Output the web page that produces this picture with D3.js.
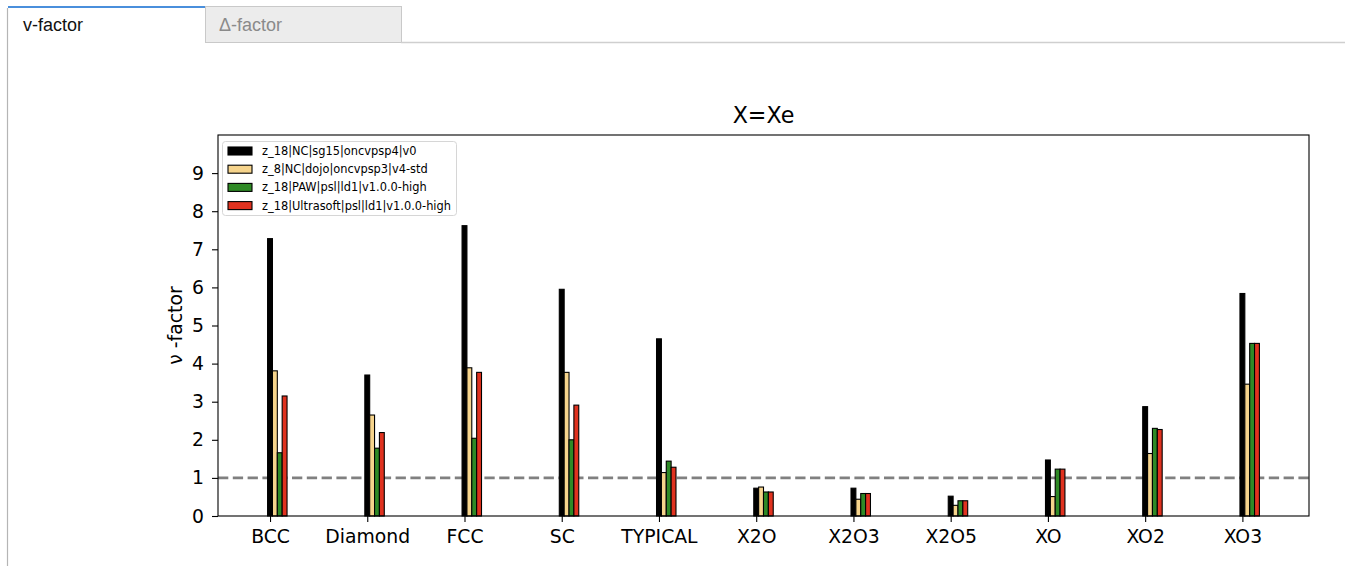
<!DOCTYPE html>
<html><head><meta charset="utf-8">
<script src="https://cdn.jsdelivr.net/npm/d3@7"></script>
<style>
html,body{margin:0;padding:0;background:#fff;overflow:hidden;}
svg{display:block;}
</style></head>
<body>
<svg id="chart" width="1353" height="566"></svg>
<script>
const categories = ["BCC","Diamond","FCC","SC","TYPICAL","X2O","X2O3","X2O5","XO","XO2","XO3"];
const seriesNames = ["z_18|NC|sg15|oncvpsp4|v0","z_8|NC|dojo|oncvpsp3|v4-std","z_18|PAW|psl|ld1|v1.0.0-high","z_18|Ultrasoft|psl|ld1|v1.0.0-high"];
const seriesColors = ["#000000","#f6d48c","#2f8a26","#e0321f"];
const sg15 = [7.28,3.70,7.62,5.95,4.65,0.73,0.73,0.52,1.47,2.87,5.84];
const dojo = [3.81,2.65,3.89,3.77,1.14,0.76,0.44,0.28,0.51,1.64,3.46];
const paw  = [1.66,1.78,2.04,2.00,1.44,0.63,0.59,0.40,1.23,2.30,4.53];
const us   = [3.15,2.19,3.77,2.91,1.28,0.63,0.59,0.40,1.23,2.27,4.53];
const seriesValues = [sg15,dojo,paw,us];
const yTicks = [0,1,2,3,4,5,6,7,8,9];
const tabLabels = ["v-factor","Δ-factor"];
const title = "X=Xe";
const yLabel = "ν -factor";

const svg = d3.select("#chart");

// --- tabs ---
const tabs = svg.append("g");
tabs.append("rect").attr("x",205.5).attr("y",6.5).attr("width",196).attr("height",36)
  .attr("fill","#ececec").attr("stroke","#c9c9c9");
tabs.append("line").attr("x1",401).attr("x2",1345).attr("y1",42.5).attr("y2",42.5).attr("stroke","#cfcfcf").attr("stroke-width",1.5);
tabs.append("rect").attr("x",8).attr("y",6).attr("width",197).attr("height",37).attr("fill","#fff");
tabs.append("line").attr("x1",8).attr("x2",205).attr("y1",7).attr("y2",7).attr("stroke","#4a8fdc").attr("stroke-width",2);
tabs.append("line").attr("x1",7.5).attr("x2",7.5).attr("y1",8).attr("y2",566).attr("stroke","#b5b5b5").attr("stroke-width",1.2);
tabs.selectAll("text.tab").data(tabLabels).join("text").attr("class","tab")
  .attr("x",(d,i)=> i===0 ? 23 : 219).attr("y",31)
  .attr("font-family","Liberation Sans, Arial, sans-serif").attr("font-size",18)
  .attr("fill",(d,i)=> i===0 ? "#111" : "#8a8a8a").text(d=>d);

// --- chart ---
const L=218, R=1309, T=135, B=516;
const barW = 0.05;
const x = d3.scaleLinear().domain([-0.535,10.685]).range([L,R]);
const y = d3.scaleLinear().domain([0,10]).range([B,T]);
const font = "DejaVu Sans, sans-serif";
const fs = 18.8;

const g = svg.append("g");

// reference line y=1
g.append("line").attr("x1",L).attr("x2",R).attr("y1",y(1)).attr("y2",y(1))
  .attr("stroke","#808080").attr("stroke-width",2.7).attr("stroke-dasharray","10.3,4.5");

// bars
seriesValues.forEach((vals,k)=>{
  g.append("g").selectAll("rect").data(vals).join("rect")
    .attr("x",(d,i)=> x(i + k*barW - barW/2))
    .attr("width", x(barW)-x(0))
    .attr("y", d=> y(d))
    .attr("height", d=> y(0)-y(d))
    .attr("fill", seriesColors[k])
    .attr("stroke","#000").attr("stroke-width",1.1);
});

// frame
g.append("rect").attr("x",L).attr("y",T).attr("width",R-L).attr("height",B-T)
  .attr("fill","none").attr("stroke","#000").attr("stroke-width",1.1);

// x axis
const xAxis = d3.axisBottom(x).tickValues(d3.range(categories.length))
  .tickFormat(i=>categories[i]).tickSize(6).tickPadding(4);
const xa = g.append("g").attr("transform",`translate(0,${B})`).call(xAxis);
xa.select(".domain").remove();
xa.selectAll("line").attr("stroke","#000").attr("stroke-width",1.1);
xa.selectAll("text").attr("font-family",font).attr("font-size",fs).attr("fill","#000").attr("dy","0.88em");

// y axis
const yAxis = d3.axisLeft(y).tickValues(yTicks).tickFormat(d3.format("d")).tickSize(6).tickPadding(8);
const ya = g.append("g").attr("transform",`translate(${L},0)`).call(yAxis);
ya.select(".domain").remove();
ya.selectAll("line").attr("stroke","#000").attr("stroke-width",1.1);
ya.selectAll("text").attr("font-family",font).attr("font-size",fs).attr("fill","#000");

// title
g.append("text").attr("x",(L+R)/2).attr("y",123).attr("text-anchor","middle")
  .attr("font-family",font).attr("font-size",22.2).text(title);

// y label
g.append("text").attr("transform",`translate(182,${(T+B)/2}) rotate(-90)`).attr("text-anchor","middle")
  .attr("font-family",font).attr("font-size",fs).text(yLabel);

// legend
const lg = g.append("g");
lg.append("rect").attr("x",222.5).attr("y",141.5).attr("width",234).attr("height",74).attr("rx",3)
  .attr("fill","#fff").attr("fill-opacity",0.8).attr("stroke","#d6d6d6");
const items = lg.selectAll("g.item").data(seriesNames).join("g").attr("class","item")
  .attr("transform",(d,i)=>`translate(0,${151 + i*18.2})`);
items.append("rect").attr("x",228).attr("y",-4).attr("width",24).attr("height",8)
  .attr("fill",(d,i)=>seriesColors[i]).attr("stroke","#000").attr("stroke-width",1.1);
items.append("text").attr("x",262).attr("y",4).attr("font-family",font).attr("font-size",11.4).text(d=>d);
</script>
</body></html>
